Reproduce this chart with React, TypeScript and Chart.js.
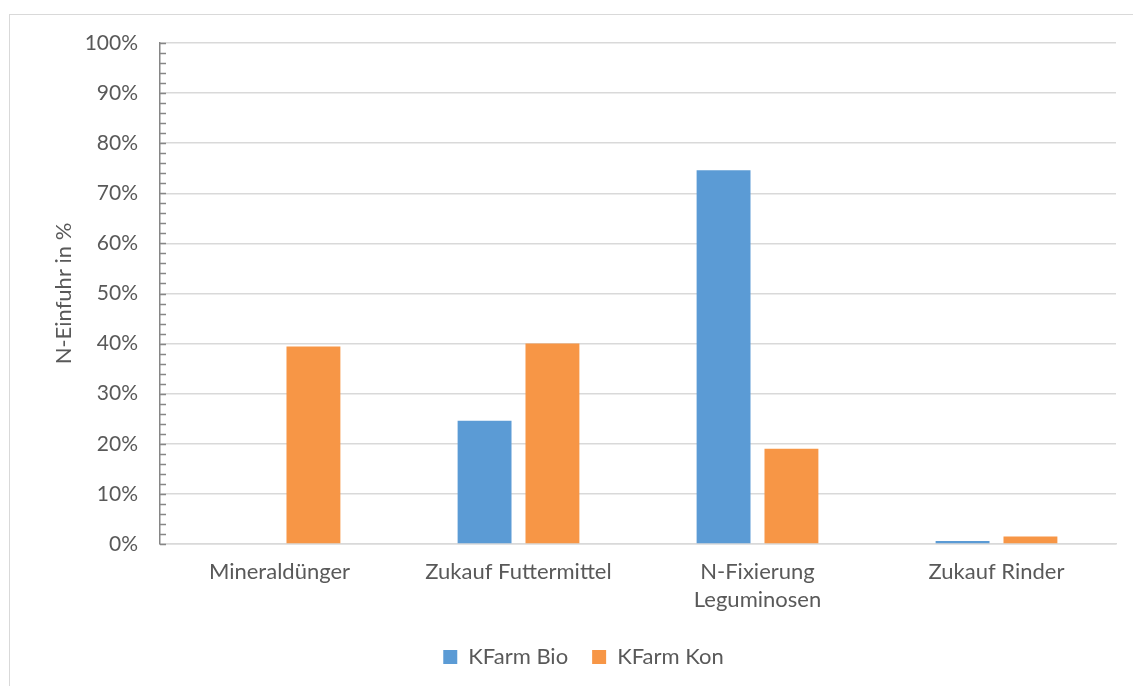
import React, { useEffect, useRef } from "react";
import { Chart, registerables } from "chart.js";

Chart.register(...registerables);

// Nitrogen import sources, share of total N import in percent
const categories: (string | string[])[] = [
  "Mineraldünger",
  "Zukauf Futtermittel",
  ["N-Fixierung", "Leguminosen"],
  "Zukauf Rinder",
];
const bioValues = [0, 24.6, 74.6, 0.6];
const konValues = [39.4, 40.0, 19.0, 1.5];
const seriesNames = ["KFarm Bio", "KFarm Kon"];
const yTickMax = 100;
const yTickStep = 10;
const yMinorStep = 2;
const yTitle = "N-Einfuhr in %";

const FONT = "Lato, 'Open Sans', sans-serif";
const TEXT = "#595959";
const GRID = "#d9d9d9";
const AXIS = "#868686";

// short inward tick marks along the value axis
const minorTicks = {
  id: "minorTicks",
  afterDatasetsDraw(chart: any) {
    const y = chart.scales.y;
    const ctx = chart.ctx;
    const x0 = chart.chartArea.left;
    ctx.save();
    ctx.strokeStyle = AXIS;
    ctx.lineWidth = 1.5;
    ctx.beginPath();
    for (let v = 0; v <= yTickMax; v += yMinorStep) {
      const py = Math.round(y.getPixelForValue(v)) + 0.5;
      ctx.moveTo(x0, py);
      ctx.lineTo(x0 + 6, py);
    }
    ctx.stroke();
    ctx.restore();
  },
};

export default function App() {
  const ref = useRef<HTMLCanvasElement>(null);

  useEffect(() => {
    if (!ref.current) return;
    const chart = new Chart(ref.current, {
      type: "bar",
      data: {
        labels: categories,
        datasets: [
          { label: seriesNames[0], data: bioValues, backgroundColor: "#5B9BD5" },
          { label: seriesNames[1], data: konValues, backgroundColor: "#F79646" },
        ],
      },
      options: {
        animation: false,
        responsive: false,
        maintainAspectRatio: false,
        datasets: { bar: { categoryPercentage: 0.568, barPercentage: 0.794 } },
        layout: { padding: { left: 51, right: 17, top: 43, bottom: 8 } },
        plugins: {
          tooltip: { enabled: false },
          legend: {
            position: "bottom",
            labels: {
              font: { family: FONT, size: 22 },
              color: TEXT,
              boxWidth: 14,
              boxHeight: 14,
              padding: 24,
            },
          },
        },
        scales: {
          x: {
            grid: { display: false },
            border: { color: GRID, width: 1.5 },
            ticks: {
              font: { family: FONT, size: 22, lineHeight: 1.27 },
              color: TEXT,
              padding: 6,
              maxRotation: 0,
              autoSkip: false,
            },
            afterFit(scale: any) {
              scale.height = 78;
            },
          },
          y: {
            min: 0,
            max: yTickMax,
            grid: { color: GRID, lineWidth: 1.5, drawTicks: false },
            border: { color: AXIS, width: 1.5 },
            ticks: {
              stepSize: yTickStep,
              font: { family: FONT, size: 21 },
              color: TEXT,
              padding: 22,
              callback: (v: any) => v + "%",
            },
            title: {
              display: true,
              text: yTitle,
              font: { family: FONT, size: 22 },
              color: TEXT,
              padding: 0,
            },
            afterFit(scale: any) {
              scale.width = 109;
            },
          },
        },
      },
      plugins: [minorTicks],
    });
    return () => chart.destroy();
  }, []);

  return (
    <div
      style={{
        position: "fixed",
        left: 0,
        top: 0,
        width: 1133,
        height: 686,
        overflow: "hidden",
        background: "#fff",
      }}
    >
      <div
        style={{
          position: "absolute",
          left: 9,
          top: 14,
          width: 1300,
          height: 900,
          border: `1.5px solid ${GRID}`,
        }}
      />
      <canvas
        ref={ref}
        width={1133}
        height={686}
        style={{ position: "absolute", left: 0, top: 0 }}
      />
    </div>
  );
}
